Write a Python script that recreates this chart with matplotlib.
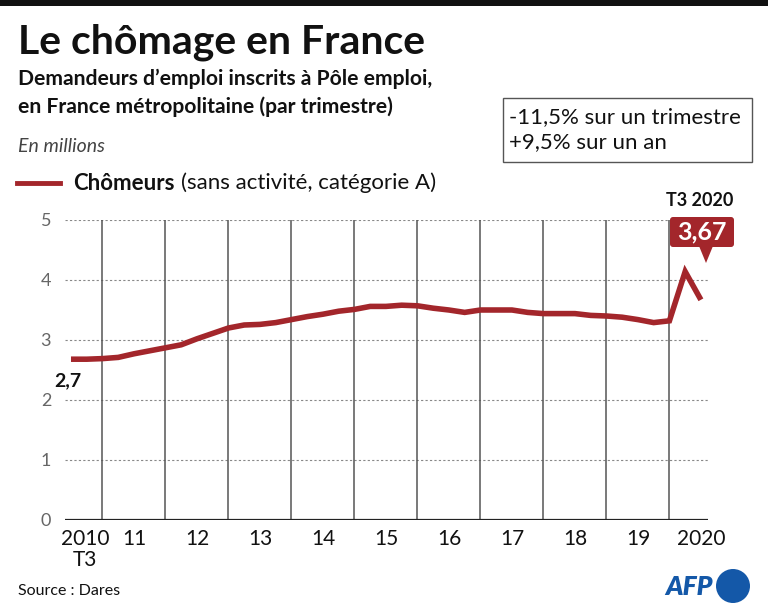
import matplotlib.pyplot as plt
import matplotlib.patches as patches
from matplotlib.transforms import Affine2D

# quarterly values, 2010 T3 -> 2020 T3 (millions)
values = [2.68, 2.68, 2.69, 2.71, 2.77, 2.82, 2.87, 2.92, 3.02, 3.11,
          3.20, 3.25, 3.26, 3.29, 3.34, 3.39, 3.43, 3.48, 3.51, 3.56,
          3.56, 3.58, 3.57, 3.53, 3.50, 3.46, 3.50, 3.50, 3.50, 3.46,
          3.44, 3.44, 3.44, 3.41, 3.40, 3.38, 3.34, 3.29, 3.32, 4.14,
          3.67]
year_labels = ["2010\nT3", "11", "12", "13", "14", "15", "16", "17", "18", "19", "2020"]
y_ticks = [0, 1, 2, 3, 4, 5]

RED = '#a3262b'
FONT = 'Lato'
plt.rcParams['font.family'] = [FONT, 'DejaVu Sans']

W, H = 768, 614
fig = plt.figure(figsize=(W / 100, H / 100), dpi=100)
# pixel coords, origin top-left
px = Affine2D().scale(1 / W, -1 / H).translate(0, 1) + fig.transFigure

ax = fig.add_axes([65 / W, 1 - 520 / H, (708 - 65) / W, 300 / H])
x = list(range(len(values)))
ax.set_xlim(-0.38, 40.45)
ax.set_ylim(0, 5)
for s in ax.spines.values():
    s.set_visible(False)

# grid
for v in y_ticks[1:]:
    ax.axhline(v, color='#888888', lw=0.8, ls=(0, (2, 2)), zorder=1)
for q in range(2, 40, 4):
    ax.plot([q, q], [0, 5], color='#555555', lw=1.1, zorder=1)
ax.axhline(0, color='#222222', lw=1.6, zorder=2)

ax.plot(x, values, color=RED, lw=4, solid_capstyle='butt', solid_joinstyle='miter', zorder=3, clip_on=False)

ax.set_yticks(y_ticks)
ax.set_yticklabels([str(v) for v in y_ticks], color='#666666', fontsize=13)
ax.tick_params(axis='y', length=0, pad=10)
ax.set_xticks([4 * i for i in range(len(year_labels))])
ax.set_xticklabels([])
ax.tick_params(axis='x', length=0)
for i, lab in enumerate(year_labels):
    xi = 4 * i + (0.9 if i == 0 else 0)
    ax.text(xi, -0.15, lab, ha='center', va='top', fontsize=15, color='#111111', linespacing=1.05)

# start label
ax.text(-0.2, values[0] - 0.22, f"{values[0]:.1f}".replace('.', ','), ha='center', va='top',
        fontsize=14, fontweight='bold', color='#111111')

# header
fig.add_artist(patches.Rectangle((0, 0), W, 6, transform=px, fc='#111111', ec='none'))
fig.text(18, 42, "Le chômage en France", transform=px, fontsize=29.5, fontweight='bold', va='center', color='#111111')
fig.text(18, 79, "Demandeurs d\u2019emploi inscrits à Pôle emploi,", transform=px, fontsize=15.2,
         fontweight='bold', va='center', color='#111111')
fig.text(18, 107, "en France métropolitaine (par trimestre)", transform=px, fontsize=15.2,
         fontweight='bold', va='center', color='#111111')
fig.text(18, 146, "En millions", transform=px, fontsize=14, style='italic', va='center', color='#444444')

# legend
fig.add_artist(plt.Line2D([17, 60], [183, 183], transform=px, color=RED, lw=3.5))
fig.text(73, 183, "Chômeurs", transform=px, fontsize=16, fontweight='bold', va='center', color='#111111')
fig.text(181, 183, "(sans activité, catégorie A)", transform=px, fontsize=16, va='center', color='#111111')

# box
fig.add_artist(patches.Rectangle((503, 98), 249, 64, transform=px, fc='white', ec='#555555', lw=1))
fig.text(509, 117, "-11,5% sur un trimestre", transform=px, fontsize=16, va='center', color='#111111')
fig.text(509, 142, "+9,5% sur un an", transform=px, fontsize=16, va='center', color='#111111')

# callout
fig.text(700, 200, "T3 2020", transform=px, fontsize=13, fontweight='bold', ha='center', va='center', color='#111111')
fig.add_artist(patches.FancyBboxPatch((670, 217), 64, 30, boxstyle="round,pad=0,rounding_size=3",
                                      transform=px, fc=RED, ec='none'))
fig.add_artist(patches.Polygon([(699, 246), (713, 246), (706, 263)], closed=True, transform=px, fc=RED, ec='none'))
fig.text(702, 232, f"{values[-1]:.2f}".replace('.', ','), transform=px, fontsize=18, fontweight='bold',
         ha='center', va='center', color='white')

# footer
fig.text(18, 591, "Source : Dares", transform=px, fontsize=11.5, va='center', color='#111111')
fig.text(689, 587, "AFP", transform=px, fontsize=19, fontweight='heavy', style='italic', ha='center',
         va='center', color='#1458a8')
fig.add_artist(patches.Circle((733, 586), 17, transform=px, fc='#1458a8', ec='none'))

fig.savefig("out.png", dpi=100)
